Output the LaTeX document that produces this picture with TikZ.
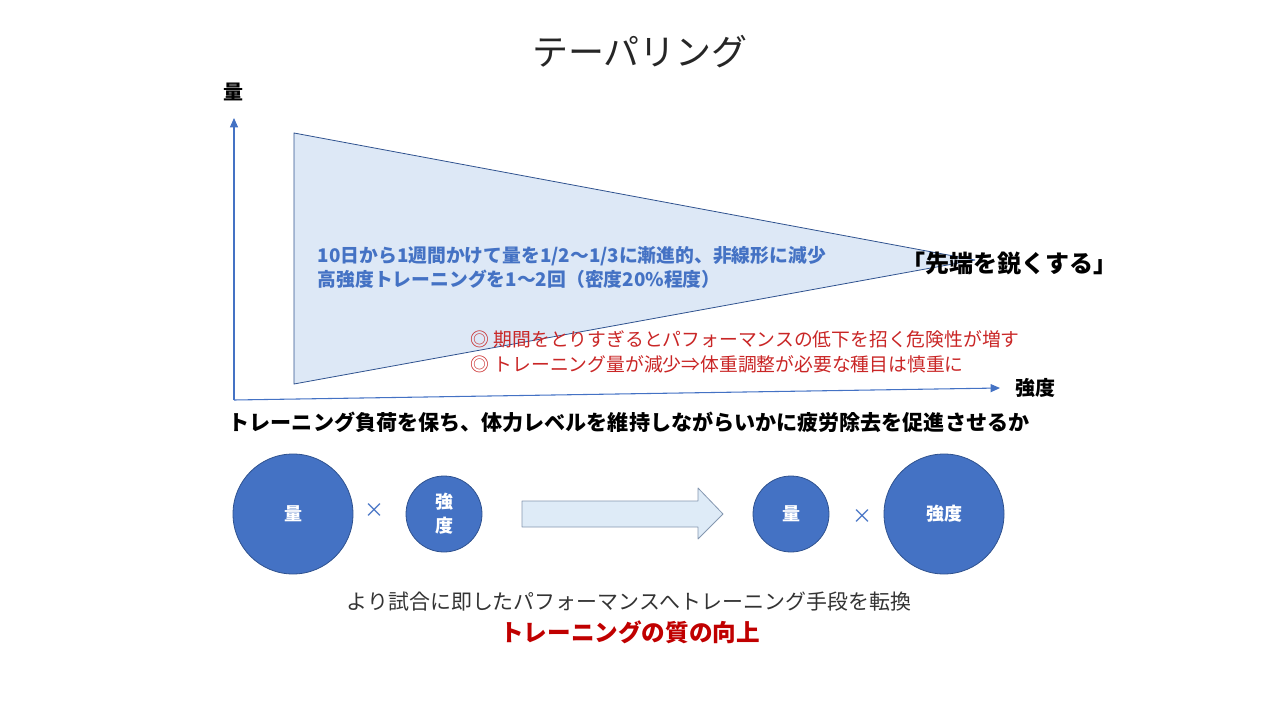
\documentclass[tikz,border=0pt]{standalone}
\usepackage{fontspec}
\newfontfamily\jp{Noto Sans CJK JP}
\usetikzlibrary{arrows.meta,positioning}

\begin{document}
\begin{tikzpicture}[x=0.75pt, y=-0.75pt, line join=round, font=\jp]

% ---------- helpers ----------
\definecolor{axisblue}{RGB}{68,114,196}
\definecolor{edgeblue}{RGB}{47,82,143}
\definecolor{paleblue}{RGB}{221,232,246}
\definecolor{arrowpale}{RGB}{222,235,247}
\definecolor{arrowedge}{RGB}{132,151,176}
\definecolor{noteRed}{RGB}{192,0,0}

\tikzset{
  axislabel/.style={font=\jp\bfseries\fontsize{15}{18}\selectfont},
  bigball/.style={circle, fill=axisblue, draw=edgeblue, line width=0.6pt, minimum size=90pt, inner sep=0pt,
    text=white, align=center, font=\jp\bfseries\fontsize{13.5}{18}\selectfont},
  smallball/.style={bigball, minimum size=57pt},
  timesmark/.style={text=axisblue, font=\jp\fontsize{15}{18}\selectfont},
}

\useasboundingbox (0,0) rectangle (1280,720);

% title
\node[text=black!85] (title) at (640,52) {\fontsize{27}{30}\selectfont テーパリング};

% ---------- graph ----------
\coordinate (origin) at (234,400);
\coordinate (ytop) at (234,118);
\coordinate (xend) at (1000,388);

% tapering wedge
\fill[paleblue, draw=edgeblue, line width=0.6pt] (294,133) -- (975,260) -- (294,384) -- cycle;

% axes
\draw[axisblue, line width=0.8pt, -{Triangle[length=7pt,width=6pt]}] (origin) -- (ytop);
\draw[axisblue, line width=0.8pt, -{Triangle[length=7pt,width=6pt]}] (origin) -- (xend);
\node[axislabel] (ylab) at (233,92) {量};
\node[axislabel] (xlab) at (1035,388) {強度};

% texts in the graph
\node[anchor=west, align=left, text=axisblue, font=\jp\bfseries\fontsize{14.1}{18}\selectfont] (plan) at (313,267)
  {10日から1週間かけて量を1/2〜1/3に漸進的、非線形に減少\\高強度トレーニングを1〜2回（密度20\%程度）};
\node[anchor=west, font=\jp\bfseries\fontsize{18}{20}\selectfont] (sharpen) at (897,263) {「先端を鋭くする」};
\node[anchor=west, align=left, text=noteRed!85, font=\jp\fontsize{14.1}{18.75}\selectfont] (notes) at (466,352)
  {◎ 期間をとりすぎるとパフォーマンスの低下を招く危険性が増す\\◎ トレーニング量が減少⇒体重調整が必要な種目は慎重に};

\node[font=\jp\bfseries\fontsize{15.8}{18}\selectfont] (aim) at (629,422)
  {トレーニング負荷を保ち、体力レベルを維持しながらいかに疲労除去を促進させるか};

% ---------- volume x intensity ----------
\node[bigball] (vol1) at (293,514) {量};
\node[timesmark] (x1) at (374,511) {×};
\node[smallball] (int1) at (444,514) {強\\度};

\draw[fill=arrowpale, draw=arrowedge, line width=0.6pt]
  (522,501) -- (698,501) -- (698,488) -- (723,514) -- (698,539) -- (698,527) -- (522,527) -- cycle;

\node[smallball] (vol2) at (791,514) {量};
\node[timesmark] (x2) at (862,517) {×};
\node[bigball] (int2) at (944,514) {強度};

% conclusion
\node[text=black!80, font=\jp\fontsize{15.7}{18}\selectfont] (shift) at (629,602)
  {より試合に即したパフォーマンスへトレーニング手段を転換};
\node[text=noteRed, font=\jp\bfseries\fontsize{17.7}{20}\selectfont] (quality) at (630,632)
  {トレーニングの質の向上};

\end{tikzpicture}
\end{document}
